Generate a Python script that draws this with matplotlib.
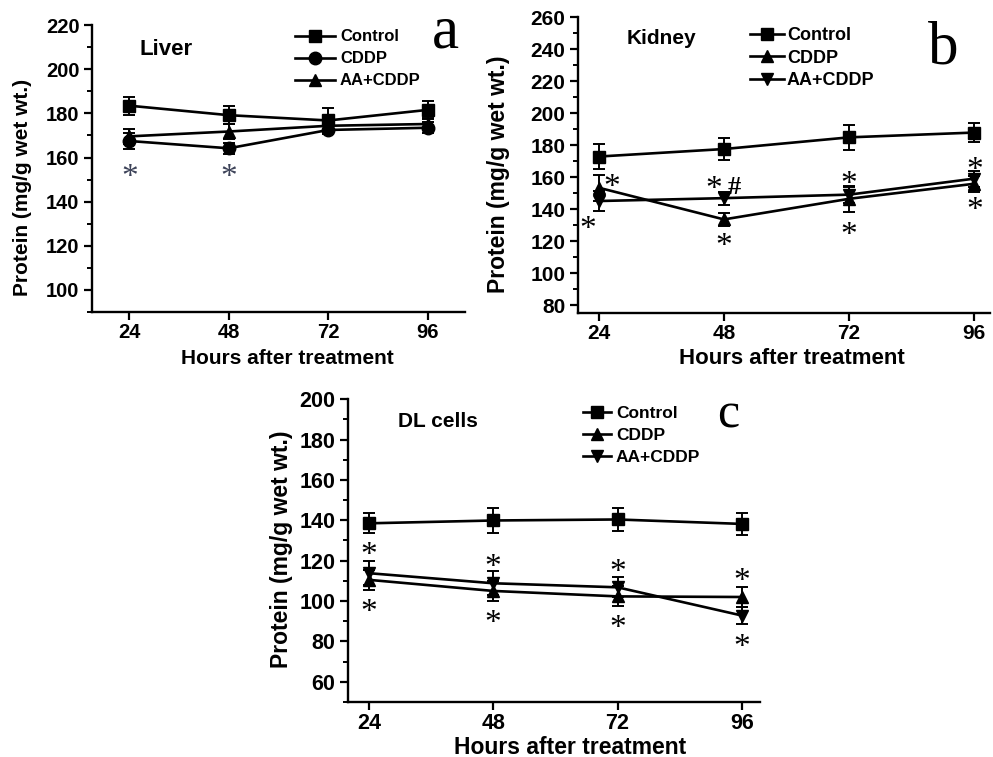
import matplotlib
matplotlib.use("Agg")
import matplotlib.pyplot as plt
from matplotlib.ticker import AutoMinorLocator

plt.rcParams['font.family'] = ['Liberation Sans', 'DejaVu Sans']
plt.rcParams['font.weight'] = 'bold'

hours = [24, 48, 72, 96]
series_names = ['Control', 'CDDP', 'AA+CDDP']

# liver
liver_control = [183.5, 179.2, 176.8, 181.6]
liver_control_err = [4, 4, 5.5, 4]
liver_cddp = [167.5, 164.2, 172.5, 173.5]
liver_cddp_err = [3.5, 2.5, 2, 2.5]
liver_aa = [169.6, 171.8, 174.4, 175.2]
liver_aa_err = [3.5, 3.5, 2, 2.5]
liver_star_x = [24, 48]
liver_star_y = [154.5, 154.5]

# kidney
kidney_control = [172.8, 177.5, 184.8, 187.8]
kidney_control_err = [8, 7, 8, 6]
kidney_cddp = [153.3, 133.5, 146.4, 155.8]
kidney_cddp_err = [8, 4, 8, 5]
kidney_aa = [145, 146.8, 149, 159]
kidney_aa_err = [6, 4, 5, 5]
kidney_star_x = [26.5, 21.9, 46.1, 48, 72, 72, 96, 96]
kidney_star_y = [158.5, 132.4, 157.4, 121.4, 160.5, 128.3, 169.3, 144]
kidney_hash_x = [50]
kidney_hash_y = [157.4]

# DL cells
dl_control = [138.5, 139.9, 140.4, 138.2]
dl_control_err = [5, 6, 5.5, 5.5]
dl_cddp = [110.5, 105, 102.3, 102]
dl_cddp_err = [5, 5, 5, 5]
dl_aa = [113.8, 108.8, 106.8, 92.8]
dl_aa_err = [6, 6, 5, 4]
dl_star_x = [24, 24, 48, 48, 72, 72, 96, 96]
dl_star_y = [126.7, 98.2, 120.6, 92.8, 118, 90.6, 113.8, 81.2]


def star(ax, x, y, color='black', s='*', fs=24, weight='normal'):
    # put the glyph centre on the point
    ax.annotate(s, (x, y), xytext=(0, -0.5 * fs), textcoords='offset points',
                ha='center', va='baseline', fontsize=fs, color=color,
                family='Liberation Serif', fontweight=weight)


def panel(rect, ylim, yticks, xlim, series, markers, title, title_pos,
          leg_pos, leg_fs, hl, htp, lsp, ylab_fs, xlab_fs, tick_fs,
          ylab_pos, xlab_pos):
    ax = fig.add_axes(rect)
    for (vals, errs), m, name in zip(series, markers, series_names):
        ax.errorbar(hours, vals, yerr=errs, fmt='none', ecolor='black',
                    elinewidth=1.4, capsize=4.5, capthick=1.4)
        ax.plot(hours, vals, color='black', lw=1.9, marker=m, ms=9,
                label=name)
    ax.set_xlim(*xlim)
    ax.set_ylim(*ylim)
    ax.set_xticks(hours)
    ax.set_yticks(yticks)
    ax.yaxis.set_minor_locator(AutoMinorLocator(2))
    for s in ['top', 'right']:
        ax.spines[s].set_visible(False)
    for s in ['left', 'bottom']:
        ax.spines[s].set_linewidth(1.7)
    ax.tick_params(axis='both', which='major', length=6, width=1.6,
                   labelsize=tick_fs, pad=3)
    ax.tick_params(axis='x', which='major', pad=2)
    ax.tick_params(axis='y', which='minor', length=3.5, width=1.4)
    ax.set_ylabel('Protein (mg/g wet wt.)', fontsize=ylab_fs, fontweight='bold')
    ax.set_xlabel('Hours after treatment', fontsize=xlab_fs, fontweight='bold')
    ax.yaxis.set_label_coords(*ylab_pos)
    ax.xaxis.set_label_coords(*xlab_pos)
    ax.text(title_pos[0], title_pos[1], title, transform=ax.transAxes,
            fontsize=title_pos[2], fontweight='bold', va='center', ha='left')
    ax.legend(loc='upper left', bbox_to_anchor=leg_pos, frameon=False,
              fontsize=leg_fs, handlelength=hl, handletextpad=htp,
              borderpad=0, borderaxespad=0, labelspacing=lsp)
    return ax


fig = plt.figure(figsize=(9.93, 7.57), dpi=100)

ax_a = panel([0.0927, 0.5878, 0.3756, 0.379], (90, 220),
             range(100, 221, 20), (15, 105),
             [(liver_control, liver_control_err), (liver_cddp, liver_cddp_err),
              (liver_aa, liver_aa_err)],
             ['s', 'o', '^'], 'Liver', (0.127, 0.916, 16),
             (0.544, 0.985), 12, 2.4, 0.3, 0.42, 15, 15, 14.5,
             (-0.161, 0.435), (0.525, -0.129))
for x, y in zip(liver_star_x, liver_star_y):
    star(ax_a, x, y, color='#3c4258')

ax_b = panel([0.582, 0.5865, 0.415, 0.391], (75, 260),
             range(80, 261, 20), (20, 99),
             [(kidney_control, kidney_control_err), (kidney_cddp, kidney_cddp_err),
              (kidney_aa, kidney_aa_err)],
             ['s', '^', 'v'], 'Kidney', (0.117, 0.929, 15),
             (0.417, 0.965), 13, 1.9, 0.15, 0.3, 16.5, 16, 15,
             (-0.165, 0.47), (0.52, -0.118))
for x, y in zip(kidney_star_x, kidney_star_y):
    star(ax_b, x, y)
for x, y in zip(kidney_hash_x, kidney_hash_y):
    star(ax_b, x, y, s='#', fs=19, weight='bold')

ax_c = panel([0.3505, 0.0727, 0.415, 0.400], (50, 200),
             range(60, 201, 20), (20, 99.5),
             [(dl_control, dl_control_err), (dl_cddp, dl_cddp_err),
              (dl_aa, dl_aa_err)],
             ['s', '^', 'v'], 'DL cells', (0.122, 0.927, 15),
             (0.570, 0.977), 12.5, 1.6, 0.3, 0.4, 16.5, 16.5, 15.5,
             (-0.133, 0.505), (0.539, -0.112))
for x, y in zip(dl_star_x, dl_star_y):
    star(ax_c, x, y)

# panel letters
fig.text(445 / 993, 1 - 47 / 757, 'a', fontsize=44, family='Liberation Serif',
         fontweight='normal', ha='center', va='baseline')
fig.text(943 / 993, 1 - 63 / 757, 'b', fontsize=44, family='Liberation Serif',
         fontweight='normal', ha='center', va='baseline')
fig.text(728 / 993, 1 - 427 / 757, 'c', fontsize=36, family='Liberation Serif',
         fontweight='normal', ha='center', va='baseline')

fig.savefig('out.png', dpi=100)
